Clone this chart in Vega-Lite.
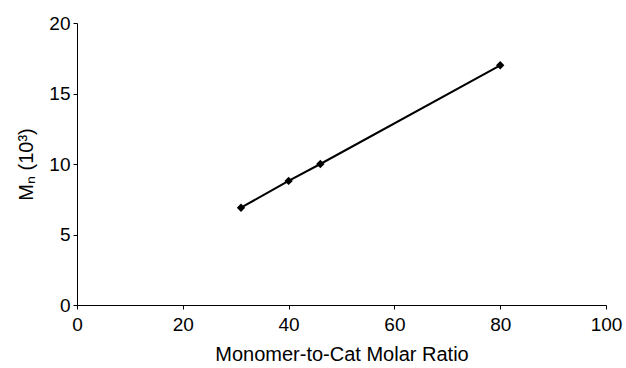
{
  "$schema": "https://vega.github.io/schema/vega-lite/v6.json",
  "width": 529,
  "height": 282,
  "autosize": {"type": "none"},
  "padding": {"left": 77, "top": 23, "right": 20, "bottom": 63},
  "background": "white",
  "config": {
    "view": {"stroke": null},
    "font": "Liberation Sans",
    "axis": {
      "grid": false,
      "domainColor": "black",
      "tickColor": "black",
      "tickSize": 4,
      "labelFontSize": 19,
      "labelColor": "black",
      "titleFontSize": 20,
      "titleFontWeight": "normal",
      "titleColor": "black",
      "labelFont": "Liberation Sans",
      "titleFont": "Liberation Sans"
    }
  },
  "data": {
    "values": [
      {"ratio": 31, "mn": 6.9},
      {"ratio": 40, "mn": 8.8},
      {"ratio": 46, "mn": 10.0},
      {"ratio": 80, "mn": 17.0}
    ]
  },
  "encoding": {
    "x": {
      "field": "ratio",
      "type": "quantitative",
      "scale": {"domain": [0, 100], "nice": false},
      "axis": {"values": [0, 20, 40, 60, 80, 100], "title": "Monomer-to-Cat Molar Ratio", "labelPadding": 6, "titlePadding": 10, "labelFlush": false}
    },
    "y": {
      "field": "mn",
      "type": "quantitative",
      "scale": {"domain": [0, 20], "nice": false},
      "axis": {"values": [0, 5, 10, 15, 20], "title": "Mₙ (10³)", "labelPadding": 3, "titlePadding": 12, "labelFlush": false}
    }
  },
  "layer": [
    {"mark": {"type": "line", "color": "black", "strokeWidth": 2}},
    {"mark": {"type": "point", "shape": "diamond", "filled": true, "color": "black", "size": 70, "opacity": 1}}
  ]
}
